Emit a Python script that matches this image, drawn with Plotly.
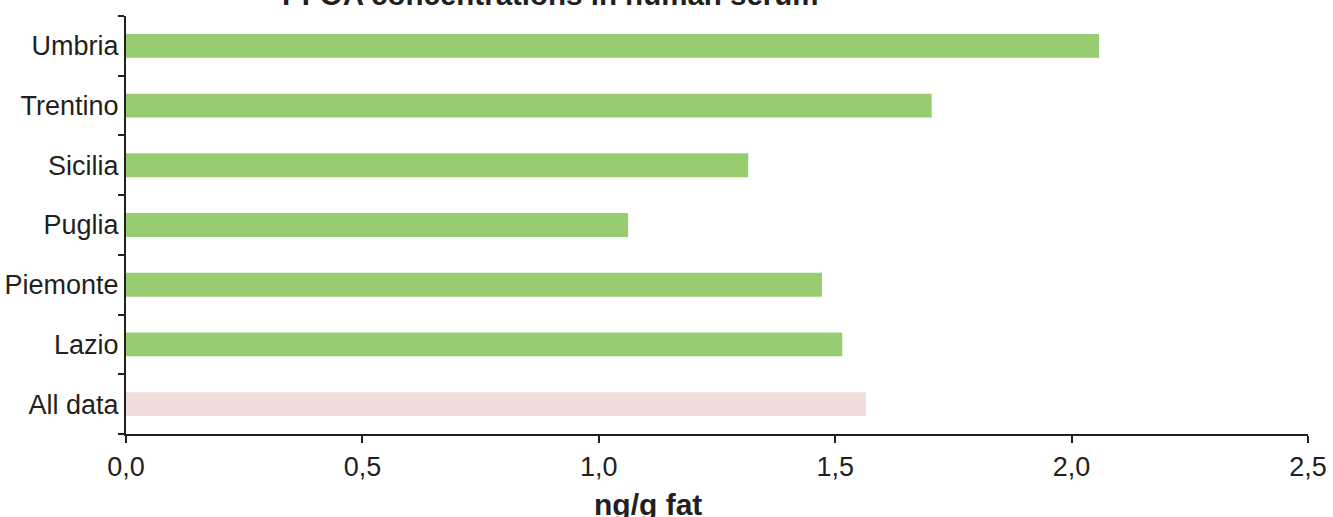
import plotly.graph_objects as go

categories = ["All data", "Lazio", "Piemonte", "Puglia", "Sicilia", "Trentino", "Umbria"]
values = [1.565, 1.515, 1.472, 1.062, 1.316, 1.704, 2.058]
bar_colors = ["#f2dcdb"] + ["#97cc71"] * 6
x_ticks = [0, 0.5, 1.0, 1.5, 2.0, 2.5]

fig = go.Figure(go.Bar(
    y=categories, x=values, orientation="h",
    marker=dict(color=bar_colors, line=dict(width=0)),
    width=0.4,
))

axis_color = "#231f20"
font_family = "Liberation Sans, Arial, sans-serif"

L, R, T, B = 126, 25, 16, 83
plot_w = 1333 - L - R
plot_h = 517 - T - B

fig.update_layout(
    width=1333, height=517,
    margin=dict(l=L, r=R, t=T, b=B, autoexpand=False),
    plot_bgcolor="white", paper_bgcolor="white",
    separators=", ",
    showlegend=False,
    font=dict(family=font_family, size=27, color=axis_color),
    xaxis=dict(
        range=[0, 2.5], tickvals=x_ticks, tickformat=".1f",
        showgrid=False, zeroline=False, automargin=False,
        showline=True, linecolor=axis_color, linewidth=2,
        ticks="outside", ticklen=7, tickwidth=2, tickcolor=axis_color,
        tickfont=dict(size=27, color=axis_color),
        ticklabelstandoff=1,
    ),
    yaxis=dict(
        categoryorder="array", categoryarray=categories,
        range=[-0.5, 6.5], automargin=False,
        showgrid=False, zeroline=False,
        showline=True, linecolor=axis_color, linewidth=2,
        ticks="outside", tickson="boundaries", ticklen=6, tickwidth=2, tickcolor=axis_color,
        tickfont=dict(size=27, color=axis_color),
        ticklabelstandoff=0,
    ),
    annotations=[
        dict(text="<b>ng/g fat</b>", xref="paper", yref="paper",
             x=(648 - L) / plot_w, y=-(504 - (T + plot_h)) / plot_h,
             xanchor="center", yanchor="middle",
             showarrow=False, font=dict(size=30, color=axis_color)),
        dict(text="<b>PFOA concentrations in human serum</b>", xref="paper", yref="paper",
             x=(550 - L) / plot_w, y=((T + plot_h) - (-5)) / plot_h,
             xanchor="center", yanchor="middle",
             showarrow=False, font=dict(size=29.5, color=axis_color)),
    ],
)

fig.write_html("out.html", config={"displayModeBar": False},
               post_script="document.body.style.margin='0';")
